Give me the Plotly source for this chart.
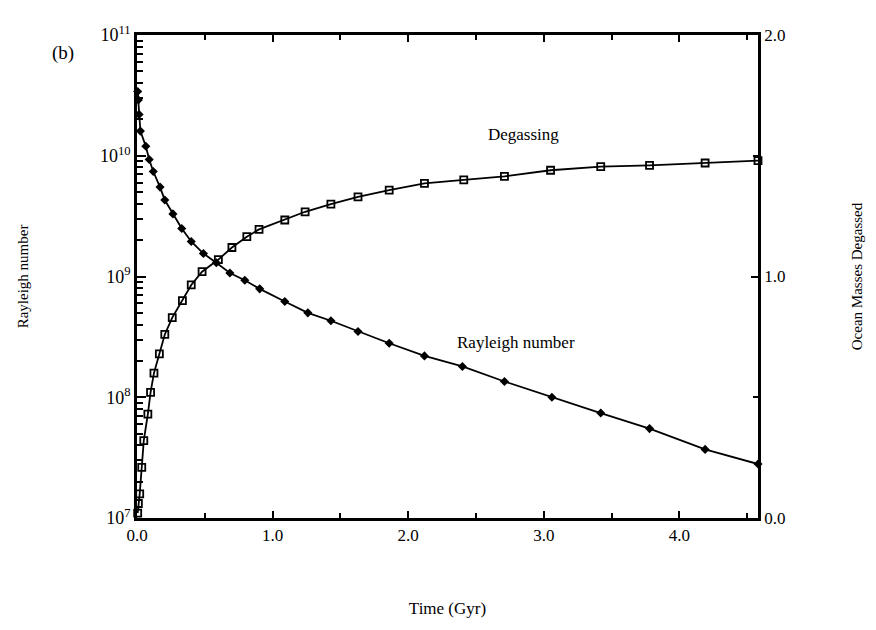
import plotly.graph_objects as go

# Rayleigh number (left, log axis)
ra_time = [0.005, 0.01, 0.015, 0.025, 0.065, 0.09, 0.12, 0.17, 0.205, 0.265, 0.33, 0.40,
           0.49, 0.585, 0.685, 0.795, 0.905, 1.09, 1.26, 1.43, 1.63, 1.86, 2.12, 2.40,
           2.71, 3.06, 3.42, 3.78, 4.19, 4.58]
ra_value = [3.4e10, 2.9e10, 2.2e10, 1.6e10, 1.2e10, 9.3e9, 7.4e9, 5.5e9, 4.3e9, 3.3e9,
            2.5e9, 1.95e9, 1.55e9, 1.3e9, 1.07e9, 9.3e8, 7.9e8, 6.2e8, 5.0e8, 4.3e8,
            3.5e8, 2.8e8, 2.2e8, 1.8e8, 1.35e8, 1.0e8, 7.4e7, 5.5e7, 3.7e7, 2.8e7]

# Ocean masses degassed (right axis)
deg_time = [0.005, 0.01, 0.02, 0.035, 0.05, 0.08, 0.10, 0.125, 0.165, 0.205, 0.26, 0.335,
            0.40, 0.48, 0.60, 0.70, 0.81, 0.90, 1.09, 1.24, 1.43, 1.63, 1.86, 2.12, 2.41,
            2.71, 3.05, 3.42, 3.78, 4.19, 4.58]
deg_value = [0.02, 0.06, 0.10, 0.21, 0.32, 0.43, 0.52, 0.60, 0.68, 0.76, 0.83, 0.90,
             0.965, 1.02, 1.07, 1.12, 1.165, 1.195, 1.234, 1.268, 1.30, 1.33, 1.358,
             1.386, 1.40, 1.415, 1.44, 1.455, 1.46, 1.47, 1.48]

left_tickvals = [1e7, 1e8, 1e9, 1e10, 1e11]
left_ticktext = ["10<sup>7</sup>", "10<sup>8</sup>", "10<sup>9</sup>", "10<sup>10</sup>", "10<sup>11</sup>"]
left_minor = [m * 10 ** e for e in range(7, 11) for m in range(2, 10)]
x_tickvals = [0, 1, 2, 3, 4]
x_ticktext = ["0.0", "1.0", "2.0", "3.0", "4.0"]
right_tickvals = [0, 1, 2]
right_ticktext = ["0.0", "1.0", "2.0"]

FONT = "Liberation Serif"

fig = go.Figure()
fig.add_trace(go.Scatter(
    x=ra_time, y=ra_value, mode="lines+markers", name="Rayleigh number",
    line=dict(color="black", width=1.8),
    marker=dict(symbol="diamond", size=7, color="black"),
    yaxis="y", cliponaxis=False))
fig.add_trace(go.Scatter(
    x=deg_time, y=deg_value, mode="lines+markers", name="Degassing",
    line=dict(color="black", width=1.8),
    marker=dict(symbol="square-open", size=7, color="black", line=dict(width=1.8)),
    yaxis="y2", cliponaxis=False))

fig.update_layout(
    width=876, height=630,
    margin=dict(l=137, r=116, t=35, b=112),
    paper_bgcolor="white", plot_bgcolor="white",
    showlegend=False,
    font=dict(family=FONT, color="black", size=15),
    xaxis=dict(
        range=[0, 4.58], showgrid=False, zeroline=False,
        showline=True, linecolor="black", linewidth=2.5, mirror="ticks",
        ticks="inside", ticklen=7, tickwidth=1.5, tickcolor="black",
        tickvals=x_tickvals, ticktext=x_ticktext,
        minor=dict(ticks="inside", dtick=0.5, ticklen=5, tickwidth=1.5, tickcolor="black"),
        title=dict(text="Time (Gyr)", font=dict(size=17), standoff=58),
        tickfont=dict(size=17)),
    yaxis=dict(
        type="log", range=[7, 11], showgrid=False, zeroline=False,
        showline=True, linecolor="black", linewidth=2.5,
        ticks="inside", ticklen=9, tickwidth=2, tickcolor="black",
        tickvals=left_tickvals, ticktext=left_ticktext,
        minor=dict(ticks="inside", tickvals=left_minor,
                   ticklen=6, tickwidth=2, tickcolor="black"),
        title=dict(text="Rayleigh number", font=dict(size=15), standoff=68),
        tickfont=dict(size=18)),
    yaxis2=dict(
        overlaying="y", side="right", range=[0, 2], showgrid=False, zeroline=False,
        showline=True, linecolor="black", linewidth=2.5,
        ticks="inside", ticklen=7, tickwidth=1.5, tickcolor="black",
        tickvals=right_tickvals, ticktext=right_ticktext,
        minor=dict(ticks="inside", dtick=0.5, ticklen=5, tickwidth=1.5, tickcolor="black"),
        title=dict(text="Ocean Masses Degassed", font=dict(size=15), standoff=68),
        tickfont=dict(size=17)),
    annotations=[
        dict(text="Degassing", x=525, y=123, xref="paper", yref="paper", showarrow=False,
             font=dict(size=17)),
        dict(text="Rayleigh number", x=578, y=342, xref="paper", yref="paper", showarrow=False,
             font=dict(size=17)),
        dict(text="(b)", x=50, y=40, xref="paper", yref="paper", showarrow=False,
             font=dict(size=19)),
    ],
)

# convert pixel-placed annotations to paper coordinates
plot_l, plot_r, plot_t, plot_b = 137, 760, 35, 518
for a in fig.layout.annotations:
    px, py = a.x, a.y
    a.x = (px - plot_l) / (plot_r - plot_l)
    a.y = (plot_b - py) / (plot_b - plot_t)

fig.write_html("out.html")
